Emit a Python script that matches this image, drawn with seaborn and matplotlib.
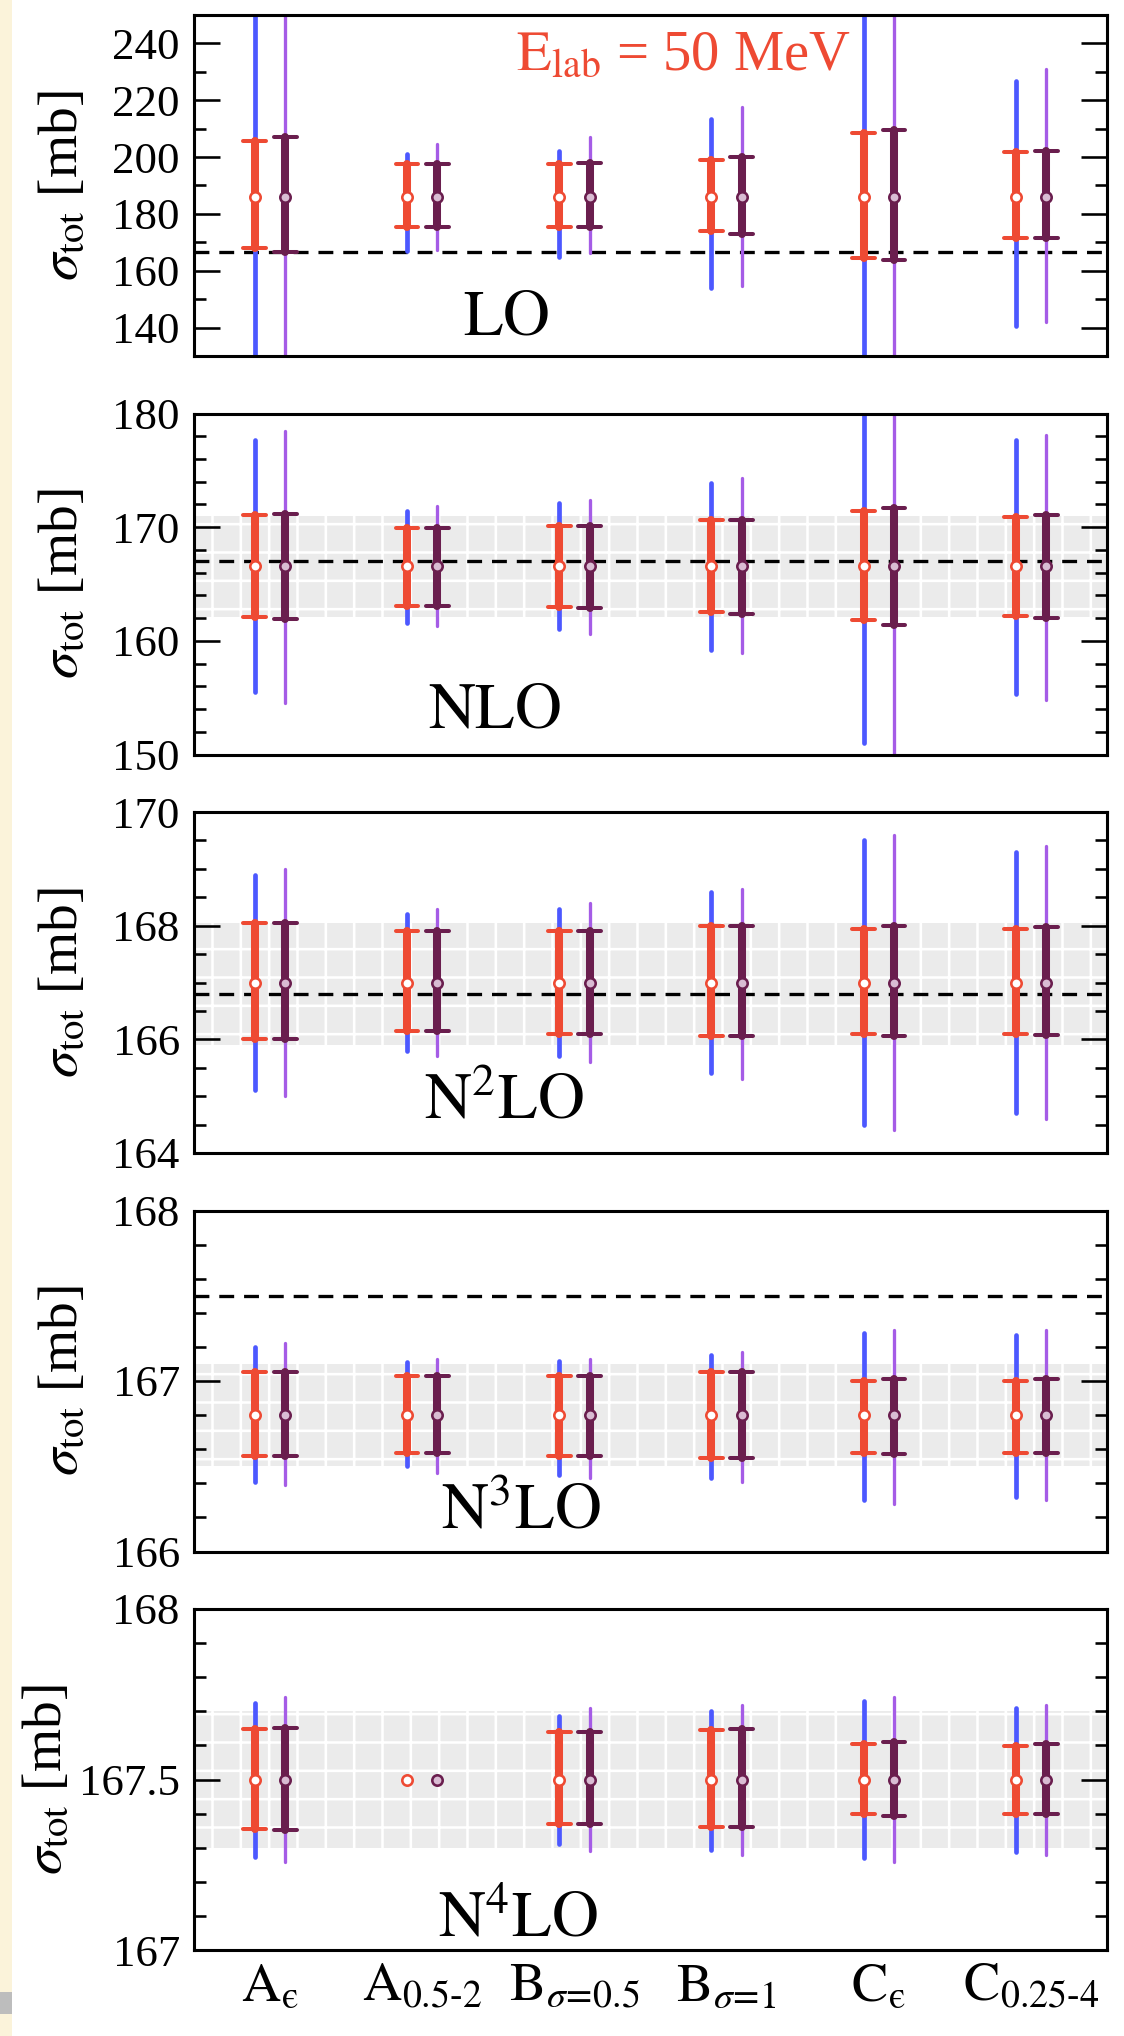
import numpy as np
import pandas as pd
import matplotlib
matplotlib.use("Agg")
import matplotlib.pyplot as plt
import matplotlib.colors as mcolors
from matplotlib.ticker import MultipleLocator, FuncFormatter
from matplotlib.patches import Rectangle
import seaborn as sns

# ---------------- data ----------------
CATS = ["A_eps", "A_0.5-2", "B_s0.5", "B_s1", "C_eps", "C_0.25-4"]
TICK_LABELS = ["$\\mathrm{A}_{\\mathrm{\u03f5}}$",
               "$\\mathrm{A}_{0.5\u20102}$",
               "$\\mathrm{B}_{\\sigma\\!=\\!0.5}$",
               "$\\mathrm{B}_{\\sigma\\!=\\!1}$",
               "$\\mathrm{C}_{\\mathrm{\u03f5}}$",
               "$\\mathrm{C}_{0.25\u20104}$"]
NAN = np.nan

# LO
LO_CENTER = [186.0, 186.0, 186.0, 186.0, 186.0, 186.0]
LO_RED_LO = [167.9, 175.4, 175.4, 174.0, 164.6, 171.4]
LO_RED_HI = [205.6, 197.6, 197.7, 198.9, 208.5, 201.8]
LO_DARK_LO = [166.7, 175.4, 175.4, 173.1, 163.8, 171.4]
LO_DARK_HI = [207.0, 197.6, 197.9, 200.2, 209.6, 202.1]
LO_BLUE_LO = [110.0, 166.8, 164.9, 153.8, 110.0, 140.4]
LO_BLUE_HI = [262.0, 201.2, 202.1, 213.5, 262.0, 226.7]
LO_PURPLE_LO = [110.0, 167.4, 166.1, 154.6, 110.0, 141.8]
LO_PURPLE_HI = [262.0, 204.7, 207.0, 217.8, 262.0, 231.0]
LO_REF = 166.6
LO_BAND = None

# NLO
NLO_CENTER = [166.6, 166.6, 166.6, 166.6, 166.6, 166.6]
NLO_RED_LO = [162.1, 163.1, 163.0, 162.5, 161.8, 162.2]
NLO_RED_HI = [171.1, 169.9, 170.1, 170.6, 171.4, 170.9]
NLO_DARK_LO = [161.9, 163.1, 162.9, 162.4, 161.4, 162.0]
NLO_DARK_HI = [171.2, 169.9, 170.1, 170.6, 171.7, 171.1]
NLO_BLUE_LO = [155.5, 161.6, 161.0, 159.2, 151.0, 155.3]
NLO_BLUE_HI = [177.7, 171.4, 172.1, 173.9, 181.5, 177.7]
NLO_PURPLE_LO = [154.5, 161.3, 160.6, 158.9, 149.0, 154.8]
NLO_PURPLE_HI = [178.5, 171.9, 172.4, 174.3, 182.0, 178.1]
NLO_REF = 167.0
NLO_BAND = (162.1, 171.0)

# N2LO
N2LO_CENTER = [167.0, 167.0, 167.0, 167.0, 167.0, 167.0]
N2LO_RED_LO = [166.0, 166.15, 166.1, 166.05, 166.1, 166.1]
N2LO_RED_HI = [168.05, 167.9, 167.9, 168.0, 167.95, 167.95]
N2LO_DARK_LO = [166.0, 166.15, 166.1, 166.05, 166.05, 166.08]
N2LO_DARK_HI = [168.05, 167.9, 167.9, 168.0, 168.0, 167.97]
N2LO_BLUE_LO = [165.1, 165.8, 165.7, 165.4, 164.5, 164.7]
N2LO_BLUE_HI = [168.9, 168.2, 168.3, 168.6, 169.5, 169.3]
N2LO_PURPLE_LO = [165.0, 165.7, 165.6, 165.3, 164.4, 164.6]
N2LO_PURPLE_HI = [169.0, 168.3, 168.4, 168.65, 169.6, 169.4]
N2LO_REF = 166.8
N2LO_BAND = (165.9, 168.05)

# N3LO
N3LO_CENTER = [166.8, 166.8, 166.8, 166.8, 166.8, 166.8]
N3LO_RED_LO = [166.56, 166.58, 166.56, 166.55, 166.58, 166.58]
N3LO_RED_HI = [167.05, 167.03, 167.03, 167.05, 167.00, 167.00]
N3LO_DARK_LO = [166.56, 166.58, 166.56, 166.55, 166.57, 166.58]
N3LO_DARK_HI = [167.05, 167.03, 167.03, 167.05, 167.01, 167.01]
N3LO_BLUE_LO = [166.41, 166.50, 166.45, 166.43, 166.30, 166.32]
N3LO_BLUE_HI = [167.20, 167.11, 167.12, 167.15, 167.28, 167.27]
N3LO_PURPLE_LO = [166.39, 166.46, 166.43, 166.41, 166.28, 166.30]
N3LO_PURPLE_HI = [167.22, 167.13, 167.13, 167.17, 167.30, 167.30]
N3LO_REF = 167.5
N3LO_BAND = (166.5, 167.1)

# N4LO
N4LO_CENTER = [167.5, 167.5, 167.5, 167.5, 167.5, 167.5]
N4LO_RED_LO = [167.356, NAN, 167.370, 167.361, 167.398, 167.400]
N4LO_RED_HI = [167.647, NAN, 167.639, 167.644, 167.603, 167.598]
N4LO_DARK_LO = [167.353, NAN, 167.370, 167.361, 167.392, 167.398]
N4LO_DARK_HI = [167.650, NAN, 167.639, 167.647, 167.609, 167.603]
N4LO_BLUE_LO = [167.272, NAN, 167.311, 167.294, 167.269, 167.286]
N4LO_BLUE_HI = [167.724, NAN, 167.687, 167.700, 167.731, 167.711]
N4LO_PURPLE_LO = [167.259, NAN, 167.291, 167.278, 167.258, 167.278]
N4LO_PURPLE_HI = [167.742, NAN, 167.709, 167.719, 167.741, 167.719]
N4LO_REF = None
N4LO_BAND = (167.3, 167.7)

ORDER_NAMES = ["LO", "NLO", "N2LO", "N3LO", "N4LO"]
ORDER_LABELS = ["$\\mathrm{LO}$", "$\\mathrm{NLO}$", "$\\mathrm{N^{2}LO}$",
                "$\\mathrm{N^{3}LO}$", "$\\mathrm{N^{4}LO}$"]

# ---------------- style ----------------
RED = "#EE4A33"
DARK = "#6A1E4E"
BLUE = "#4C58FF"
PURPLE = "#A55CE6"
RED_FACE = "#FFFFFF"
DARK_FACE = "#D9BCD3"
BAND_GRAY = "#EBEBEB"

sns.set_theme(style="white")
plt.rcParams["font.family"] = ["Liberation Serif", "DejaVu Serif"]
plt.rcParams["mathtext.fontset"] = "stix"
plt.rcParams["hatch.linewidth"] = 1.1
plt.rcParams["hatch.color"] = "white"

DPI = 170
fig = plt.figure(figsize=(1124 / DPI, 2036 / DPI), dpi=DPI, facecolor="white")

# left beige screenshot strip
fig.patches.append(Rectangle((0, 0), 12 / 1124, 1, transform=fig.transFigure,
                             facecolor="#FBF3DA", edgecolor="none", zorder=-1))
fig.patches.append(Rectangle((0, 1 - 2014 / 2036), 12 / 1124, 22 / 2036,
                             transform=fig.transFigure, facecolor="#BDBDBD",
                             edgecolor="none", zorder=0))

W, H = 1124.0, 2036.0
AX_LEFT, AX_RIGHT = 194.0, 1107.0
PANEL_H = 341.0
PITCH = 398.5
TOP0 = 15.0

YLIMS = [(130, 250), (150, 180), (164, 170), (166, 168), (167, 168)]
MAJ = [20, 10, 2, 1, 0.5]
MIN = [10, 2, 0.5, 0.2, 0.1]
TITLE_POS = [(0.295, 0.062), (0.256, 0.080), (0.252, 0.100), (0.270, 0.066), (0.267, 0.040)]
YLABEL_X = [-0.143, -0.143, -0.143, -0.143, -0.160]

g = globals()


def minmax(v):
    return (np.min(v), np.max(v))


def long_frame(center, pairs):
    rows = []
    for name, (lo, hi) in pairs.items():
        for cat, c, l, h in zip(CATS, center, lo, hi):
            if np.isnan(l):
                continue
            for v in (l, c, h):
                rows.append({"cat": cat, "series": name, "value": v})
    return pd.DataFrame(rows)


HUE_ORDER = ["left", "right"]
DODGE = 0.2

for i, name in enumerate(ORDER_NAMES):
    top = TOP0 + PITCH * i
    rect = [AX_LEFT / W, 1 - (top + PANEL_H) / H, (AX_RIGHT - AX_LEFT) / W, PANEL_H / H]
    ax = fig.add_axes(rect)
    center = g[name + "_CENTER"]

    band = g[name + "_BAND"]
    if band is not None:
        ax.axhspan(band[0], band[1], facecolor=BAND_GRAY, edgecolor="white",
                   hatch="+", linewidth=0, zorder=0.5)
    ref = g[name + "_REF"]
    if ref is not None:
        ax.axhline(ref, color="black", lw=1.4, ls=(0, (4.5, 3.0)), zorder=1)

    thin = long_frame(center, {"left": (g[name + "_BLUE_LO"], g[name + "_BLUE_HI"]),
                               "right": (g[name + "_PURPLE_LO"], g[name + "_PURPLE_HI"])})
    thick = long_frame(center, {"left": (g[name + "_RED_LO"], g[name + "_RED_HI"]),
                                "right": (g[name + "_DARK_LO"], g[name + "_DARK_HI"])})
    pts = pd.DataFrame({"cat": CATS * 2,
                        "series": ["left"] * 6 + ["right"] * 6,
                        "value": list(center) * 2})

    common = dict(x="cat", y="value", hue="series", order=CATS, hue_order=HUE_ORDER,
                  estimator="median", dodge=DODGE, linestyles="none", legend=False, ax=ax)

    sns.pointplot(data=thin, errorbar=minmax, markers="", capsize=0,
                  palette={"left": BLUE, "right": PURPLE},
                  err_kws={"linewidth": 2.0}, **common)
    sns.pointplot(data=thick, errorbar=minmax, markers="", capsize=0.15,
                  palette={"left": RED, "right": DARK},
                  err_kws={"linewidth": 1.7}, **common)
    sns.pointplot(data=thick, errorbar=minmax, markers="", capsize=0,
                  palette={"left": RED, "right": DARK},
                  err_kws={"linewidth": 3.4}, **common)
    sns.pointplot(data=pts, errorbar=None, markers="o",
                  palette={"left": RED, "right": DARK},
                  markersize=4.4, markeredgewidth=1.1, **common)

    for ln in ax.lines:
        c = ln.get_color()
        if ln.get_marker() == "o":
            ln.set_markeredgecolor(c)
            ln.set_markerfacecolor(RED_FACE if mcolors.same_color(c, RED) else DARK_FACE)
            ln.set_zorder(6)
        elif mcolors.same_color(c, PURPLE):
            ln.set_linewidth(1.4)

    ax.set_xlim(-0.5, 5.5)
    ax.set_ylim(*YLIMS[i])
    ax.yaxis.set_major_locator(MultipleLocator(MAJ[i]))
    ax.yaxis.set_minor_locator(MultipleLocator(MIN[i]))
    ax.yaxis.set_major_formatter(FuncFormatter(lambda v, p: f"{v:g}"))
    ax.tick_params(axis="y", which="both", direction="in", left=True, right=True,
                   width=1.1, colors="black", labelsize=19, pad=6)
    ax.tick_params(axis="y", which="major", length=11)
    ax.tick_params(axis="y", which="minor", length=5)
    ax.tick_params(axis="x", which="both", length=0, bottom=False, top=False)
    for sp in ax.spines.values():
        sp.set_visible(True)
        sp.set_color("black")
        sp.set_linewidth(1.3)
    ax.set_facecolor("white")
    ax.set_xlabel("")
    ax.set_ylabel("$\\sigma_{\\mathrm{tot}}$ [mb]", fontsize=23.5, color="black", va="center")
    ax.yaxis.set_label_coords(YLABEL_X[i], 0.5)
    ax.set_xticks(range(len(CATS)))
    if i == len(ORDER_NAMES) - 1:
        ax.set_xticklabels(TICK_LABELS, fontsize=23, color="black")
        ax.tick_params(axis="x", pad=5)
    else:
        ax.set_xticklabels([])

    tx, ty = TITLE_POS[i]
    ax.text(tx, ty, ORDER_LABELS[i], transform=ax.transAxes, ha="left", va="baseline",
            fontsize=27.5, color="black", zorder=7)
    if i == 0:
        ax.text(0.353, 0.839, "$\\mathrm{E}_{\\mathrm{lab}}$ = 50 MeV", transform=ax.transAxes,
                ha="left", va="baseline", fontsize=24, color=RED, zorder=7)

fig.savefig("out.png", dpi=DPI, facecolor="white")
